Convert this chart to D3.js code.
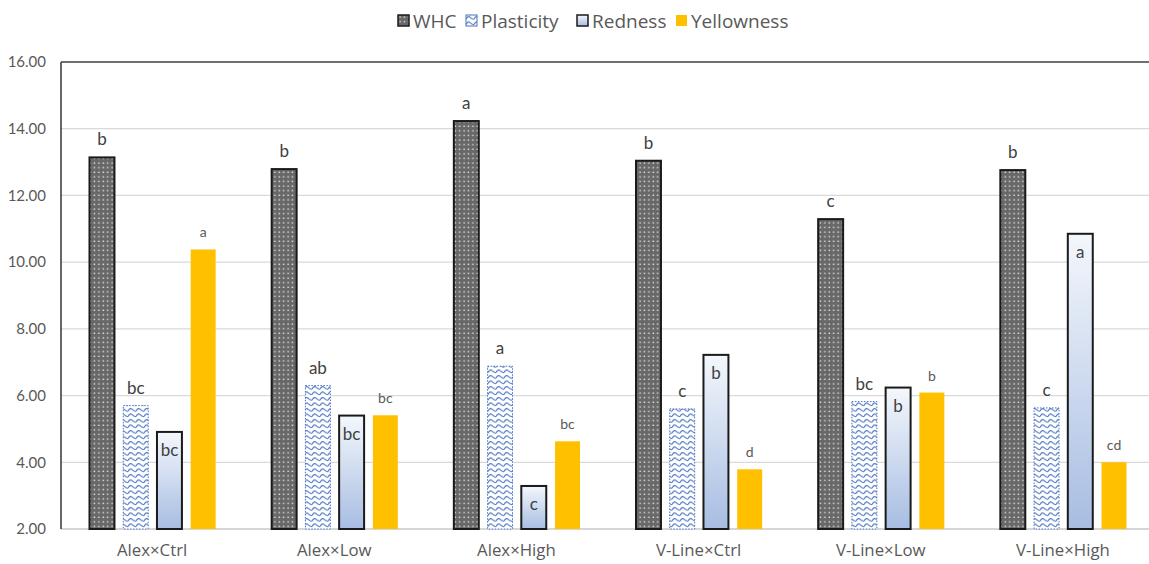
<!DOCTYPE html>
<html>
<head>
<meta charset="utf-8">
<script src="https://cdn.jsdelivr.net/npm/d3@7"></script>
<style>
  html, body { margin: 0; padding: 0; background: #fff; }
  svg { display: block; font-family: "Open Sans", Lato, sans-serif; }
</style>
</head>
<body>
<svg id="chart" width="1149" height="564"></svg>
<script>
// Treatment groups along the x axis
const categories = ["Alex×Ctrl", "Alex×Low", "Alex×High", "V-Line×Ctrl", "V-Line×Low", "V-Line×High"];
const seriesNames = ["WHC", "Plasticity", "Redness", "Yellowness"];

// Measured values per series (one per treatment)
const whc        = [13.14, 12.79, 14.23, 13.04, 11.29, 12.76];
const plasticity = [5.70, 6.30, 6.88, 5.60, 5.82, 5.63];
const redness    = [4.91, 5.40, 3.29, 7.22, 6.24, 10.85];
const yellowness = [10.38, 5.41, 4.63, 3.79, 6.09, 4.00];

// Significance letters
const whcLetters        = ["b", "b", "a", "b", "c", "b"];
const plasticityLetters = ["bc", "ab", "a", "c", "bc", "c"];
const rednessLetters    = ["bc", "bc", "c", "b", "b", "a"];
const yellownessLetters = ["a", "bc", "bc", "d", "b", "cd"];

const yTicks = [2, 4, 6, 8, 10, 12, 14, 16];

const seriesValues  = [whc, plasticity, redness, yellowness];
const seriesLetters = [whcLetters, plasticityLetters, rednessLetters, yellownessLetters];

const svg = d3.select("#chart");
const plot = { left: 61, right: 1154, top: 62, bottom: 529 };

const x0 = d3.scaleBand().domain(categories).range([plot.left, plot.right]).padding(0);
const x1 = d3.scaleBand().domain(seriesNames)
  .range([28.5, x0.bandwidth() - 27.5]).paddingInner(0.26).paddingOuter(0);
const y = d3.scaleLinear().domain([2, 16]).range([plot.bottom, plot.top]);

// ---- fills ----
const defs = svg.append("defs");

// WHC: dark grey with white dot grid
const pDots = defs.append("pattern").attr("id", "pat-whc")
  .attr("patternUnits", "userSpaceOnUse").attr("width", 4.4).attr("height", 4.6);
pDots.append("rect").attr("width", 4.4).attr("height", 4.6).attr("fill", "#686868");
pDots.append("rect").attr("x", 1.4).attr("y", 1.4).attr("width", 1.4).attr("height", 1.4).attr("fill", "#e4e4e4");

// Plasticity: white with blue wave lines
const pWave = defs.append("pattern").attr("id", "pat-plast")
  .attr("patternUnits", "userSpaceOnUse").attr("width", 8).attr("height", 5.5);
pWave.append("rect").attr("width", 8).attr("height", 5.5).attr("fill", "#ffffff");
pWave.append("path").attr("d", "M0,4.2 Q2,0.2 4,2.2 T8,4.2")
  .attr("fill", "none").attr("stroke", "#4a72c0").attr("stroke-width", 1.1);

// Redness: vertical gradient, pale to light blue
const grad = defs.append("linearGradient").attr("id", "grad-red")
  .attr("x1", 0).attr("y1", 0).attr("x2", 0).attr("y2", 1);
grad.append("stop").attr("offset", "0%").attr("stop-color", "#f4f7fc");
grad.append("stop").attr("offset", "100%").attr("stop-color", "#a7bde2");

const fills   = ["url(#pat-whc)", "url(#pat-plast)", "url(#grad-red)", "#ffc000"];
const strokes = ["#1a1a1a", "#4a72c0", "#1a1a1a", "none"];
const strokeW = [2, 1, 2, 0];
const dashes  = [null, "1.5,1.5", null, null];

// ---- gridlines & axes ----
svg.append("g")
  .selectAll("line").data(yTicks.filter(t => t > 2 && t < 16)).join("line")
  .attr("x1", plot.left).attr("x2", 1149)
  .attr("y1", d => y(d)).attr("y2", d => y(d))
  .attr("stroke", "#d9d9d9").attr("stroke-width", 1.3);

// bottom axis line
svg.append("line")
  .attr("x1", plot.left).attr("x2", 1149).attr("y1", y(2)).attr("y2", y(2))
  .attr("stroke", "#c8c8c8").attr("stroke-width", 1.3);

// y axis labels
const yAxis = d3.axisLeft(y).tickValues(yTicks).tickSize(0).tickPadding(15)
  .tickFormat(d3.format(".2f"));
const gy = svg.append("g").attr("transform", `translate(${plot.left},0)`).call(yAxis);
gy.select(".domain").remove();
gy.selectAll("text").attr("font-size", 15).attr("fill", "#595959")
  .attr("font-family", "Lato, sans-serif");

// x axis labels
const xAxis = d3.axisBottom(x0).tickSize(0).tickPadding(15);
const gx = svg.append("g").attr("transform", `translate(0,${plot.bottom})`).call(xAxis);
gx.select(".domain").remove();
gx.selectAll("text").attr("font-size", 16.8).attr("fill", "#595959")
  .attr("font-family", "\"Open Sans\", sans-serif");

// ---- bars ----
const rows = [];
categories.forEach((c, ci) => {
  seriesNames.forEach((s, si) => {
    rows.push({ cat: c, series: s, si, value: seriesValues[si][ci], letter: seriesLetters[si][ci] });
  });
});

svg.append("g").selectAll("rect").data(rows).join("rect")
  .attr("x", d => x0(d.cat) + x1(d.series))
  .attr("y", d => y(d.value))
  .attr("width", x1.bandwidth())
  .attr("height", d => y(2) - y(d.value))
  .attr("fill", d => fills[d.si])
  .attr("stroke", d => strokes[d.si])
  .attr("stroke-width", d => strokeW[d.si])
  .attr("stroke-dasharray", d => dashes[d.si]);

// top frame line and y axis line
svg.append("line")
  .attr("x1", plot.left).attr("x2", 1149).attr("y1", y(16)).attr("y2", y(16))
  .attr("stroke", "#404040").attr("stroke-width", 1.6);
svg.append("line")
  .attr("x1", plot.left).attr("x2", plot.left).attr("y1", y(16)).attr("y2", y(2))
  .attr("stroke", "#404040").attr("stroke-width", 1.6);

// ---- letters ----
svg.append("g").selectAll("text").data(rows).join("text")
  .attr("x", d => x0(d.cat) + x1(d.series) + x1.bandwidth() / 2)
  .attr("y", d => d.series === "Redness" ? y(d.value) + 24 : y(d.value) - 12)
  .attr("text-anchor", "middle")
  .attr("font-family", "Lato, sans-serif")
  .attr("font-size", d => d.series === "Yellowness" ? 14 : 17)
  .attr("fill", d => d.series === "Yellowness" ? "#595959" : "#404040")
  .text(d => d.letter);

// ---- legend ----
const legendItems = [
  { name: "WHC", x: 398 },
  { name: "Plasticity", x: 466 },
  { name: "Redness", x: 577 },
  { name: "Yellowness", x: 676 }
];
const lg = svg.append("g").selectAll("g").data(legendItems).join("g")
  .attr("transform", d => `translate(${d.x},15)`);
lg.append("rect")
  .attr("width", 11).attr("height", 11)
  .attr("fill", (d, i) => fills[i])
  .attr("stroke", (d, i) => i === 3 ? "none" : (i === 1 ? "#4a72c0" : "#1a1a1a"))
  .attr("stroke-width", (d, i) => i === 1 ? 1 : 1.5);
lg.append("text")
  .attr("x", 15).attr("y", 12.5)
  .attr("font-size", 19).attr("fill", "#595959")
  .text(d => d.name);
</script>
</body>
</html>
